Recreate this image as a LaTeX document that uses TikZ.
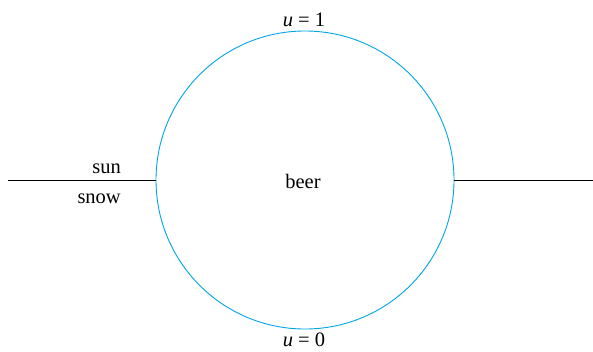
\documentclass[tikz,border=0pt]{standalone}
\usepackage{fontspec}
\setmainfont{Liberation Serif}
\definecolor{circblue}{RGB}{0,165,228}
\begin{document}
\begin{tikzpicture}[x=1pt,y=-1pt,
  lbl/.style={inner sep=0pt,font=\fontsize{20.5}{24}\selectfont},
  ln/.style={line width=0.9pt,black}]
\useasboundingbox (0,0) rectangle (593,351);
\node[circle,draw=circblue,line width=0.9pt,minimum size=298pt,inner sep=0pt] (c) at (305,180) {};
\coordinate (l) at (8,180);
\coordinate (r) at (593,180);
\draw[ln] (l) -- (c.west);
\draw[ln] (c.east) -- (r);
\node[lbl,anchor=base east] (sun) at (121,173) {sun};
\node[lbl,anchor=base east] (snow) at (121,203) {snow};
\node[lbl,anchor=base] (beer) at (303,188) {beer};
\node[lbl,anchor=base] (u1) at (304,26) {\textit{u} = 1};
\node[lbl,anchor=base] (u0) at (304,346.5) {\textit{u} = 0};
\end{tikzpicture}
\end{document}
